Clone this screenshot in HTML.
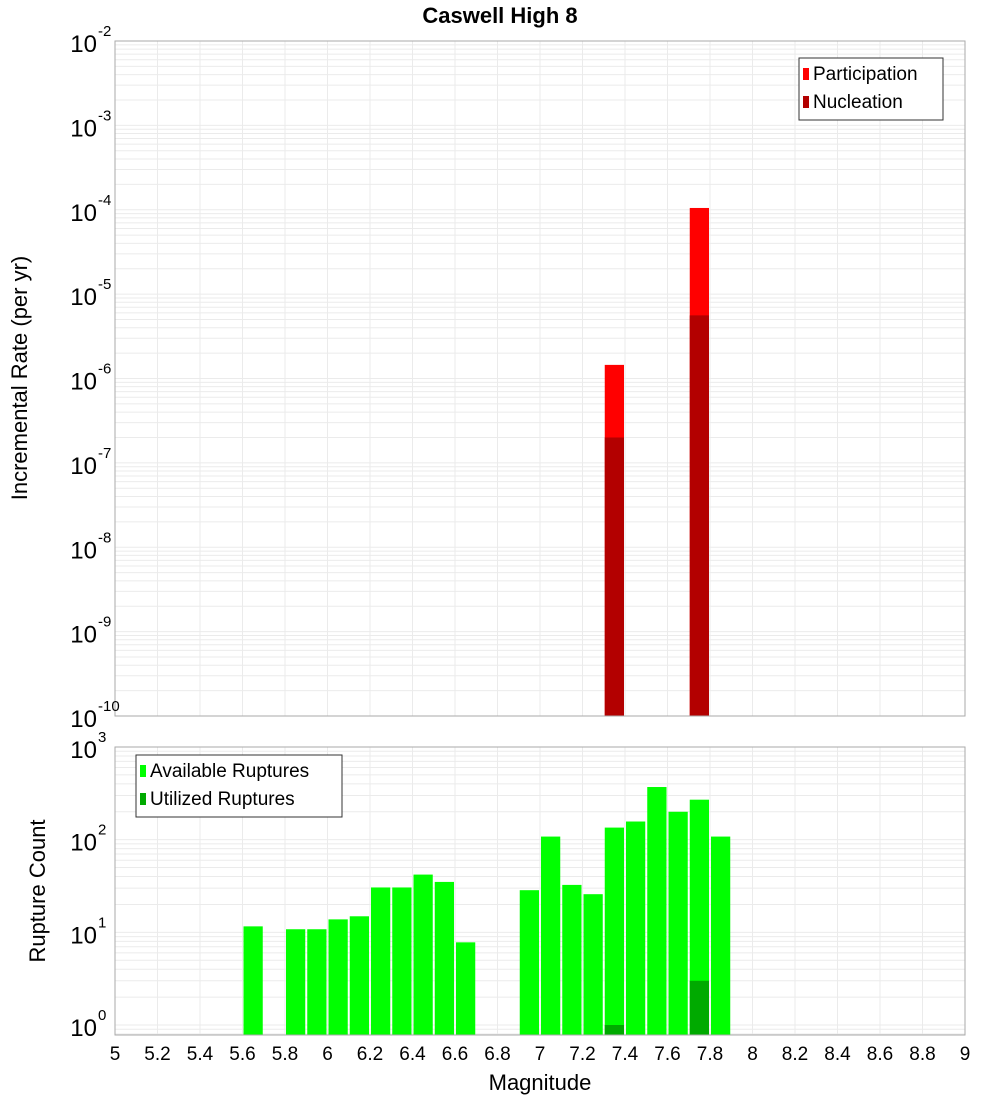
<!DOCTYPE html>
<html><head><meta charset="utf-8"><style>
body{margin:0;background:#fff;}
svg text{font-family:"Liberation Sans","DejaVu Sans",sans-serif;}
</style></head><body>
<svg id="c" width="1000" height="1100" xmlns="http://www.w3.org/2000/svg">
<text x="500" y="23" text-anchor="middle" font-size="22" font-weight="bold">Caswell High 8</text>
<g id="top"></g>
<g id="bot"></g>
<text transform="translate(27,378) rotate(-90)" text-anchor="middle" font-size="22">Incremental Rate (per yr)</text>
<text transform="translate(45,891) rotate(-90)" text-anchor="middle" font-size="22">Rupture Count</text>
<text x="540" y="1090" text-anchor="middle" font-size="22">Magnitude</text>
</svg>
<script>
const partMags=[7.35,7.75];
const partVals=[1.45e-6,1.05e-4];
const nuclMags=[7.35,7.75];
const nuclVals=[2.0e-7,5.6e-6];
const availMags=[5.65,5.85,5.95,6.05,6.15,6.25,6.35,6.45,6.55,6.65,6.95,7.05,7.15,7.25,7.35,7.45,7.55,7.65,7.75,7.85];
const availVals=[11.6,10.8,10.8,13.8,14.9,30.5,30.5,42,35,7.8,28.5,108,32.5,25.8,135,157,370,200,270,108];
const utilMags=[7.35,7.75];
const utilVals=[1.0,3.0];
const xTicks=["5","5.2","5.4","5.6","5.8","6","6.2","6.4","6.6","6.8","7","7.2","7.4","7.6","7.8","8","8.2","8.4","8.6","8.8","9"];
const NS="http://www.w3.org/2000/svg";
const X0=115,X1=965,XMIN=5,XMAX=9;
function xs(m){return X0+(m-XMIN)/(XMAX-XMIN)*(X1-X0);}
function mk(t,a,p){const e=document.createElementNS(NS,t);for(const k in a)e.setAttribute(k,a[k]);p.appendChild(e);return e;}
function plot(g,yTop,yBot,lmin,lmax){
  const ys=v=>yBot-(Math.log10(v)-lmin)/(lmax-lmin)*(yBot-yTop);
  for(let d=Math.floor(lmin);d<Math.ceil(lmax);d++)for(let k=1;k<10;k++){
    const y=ys(k*Math.pow(10,d)); if(y<yTop-0.5||y>yBot+0.5)continue;
    const l=mk('line',{x1:X0,x2:X1,y1:y,y2:y,stroke:'#ebebeb','stroke-width':1},g);
    
    
  }
  for(let i=0;i<xTicks.length;i++){
    const x=xs(parseFloat(xTicks[i]));
    const l=mk('line',{x1:x,x2:x,y1:yTop,y2:yBot,stroke:'#ebebeb','stroke-width':1},g);
    
    
  }
  return ys;
}
function bar(g,m,v,ys,yBot,color,name){
  const x=xs(m-0.05)+1,w=xs(m+0.05)-xs(m-0.05)-2,y=ys(v);
  const r=mk('rect',{x:x,y:y,width:w,height:yBot-y,fill:color},g);
  
  
}
function frame(g,yTop,yBot){
  const r=mk('rect',{x:X0,y:yTop,width:X1-X0,height:yBot-yTop,fill:'none',stroke:'#aaa','stroke-width':1},g);
  
  
}
function ylabels(g,ys,lmin,lmax,xr){
  for(let d=lmin;d<=lmax;d++){
    const t=mk('text',{x:xr-18,y:ys(Math.pow(10,d))+11,'text-anchor':'end','font-size':24},g);
    t.textContent='10';
    
    
    const s=mk('text',{x:xr-17,y:ys(Math.pow(10,d))-5,'font-size':15},g);
    s.textContent=String(d);
    
    
  }
}
function legend(g,x,y,w,items){
  const r=mk('rect',{x:x,y:y,width:w,height:items.length*28+6,fill:'#fff',stroke:'#333','stroke-width':1},g);
  
  
  items.forEach((it,i)=>{
    const s=mk('rect',{x:x+4,y:y+10+i*28,width:6,height:12,fill:it[1]},g);
    
    
    const t=mk('text',{x:x+14,y:y+22+i*28,'font-size':19},g);
    t.textContent=it[0];
    
    
  });
}
// top
const gt=document.getElementById('top');
const T0=41,T1=716;
const yt=plot(gt,T0,T1,-10,-2);
partMags.forEach((m,i)=>bar(gt,m,partVals[i],yt,T1,'#ff0000','participation-bar'));
nuclMags.forEach((m,i)=>bar(gt,m,nuclVals[i],yt,T1,'#b30000','nucleation-bar'));
frame(gt,T0,T1);
ylabels(gt,yt,-10,-2,115);
legend(gt,799,58,144,[["Participation","#ff0000"],["Nucleation","#b30000"]]);
// bottom
const gb=document.getElementById('bot');
const B0=747,B1=1035,BMIN=Math.log10(0.78),BMAX=3;
const yb=plot(gb,B0,B1,BMIN,BMAX);
availMags.forEach((m,i)=>bar(gb,m,availVals[i],yb,B1,'#00ff00','available-bar'));
utilMags.forEach((m,i)=>bar(gb,m,utilVals[i],yb,B1,'#00aa00','utilized-bar'));
frame(gb,B0,B1);
ylabels(gb,yb,0,3,115);
legend(gb,136,755,206,[["Available Ruptures","#00ff00"],["Utilized Ruptures","#00aa00"]]);
xTicks.forEach(t=>{
  const e=mk('text',{x:xs(parseFloat(t)),y:1060,'text-anchor':'middle','font-size':19},gb);
  e.textContent=t;
  
  
});
</script>
</body></html>
